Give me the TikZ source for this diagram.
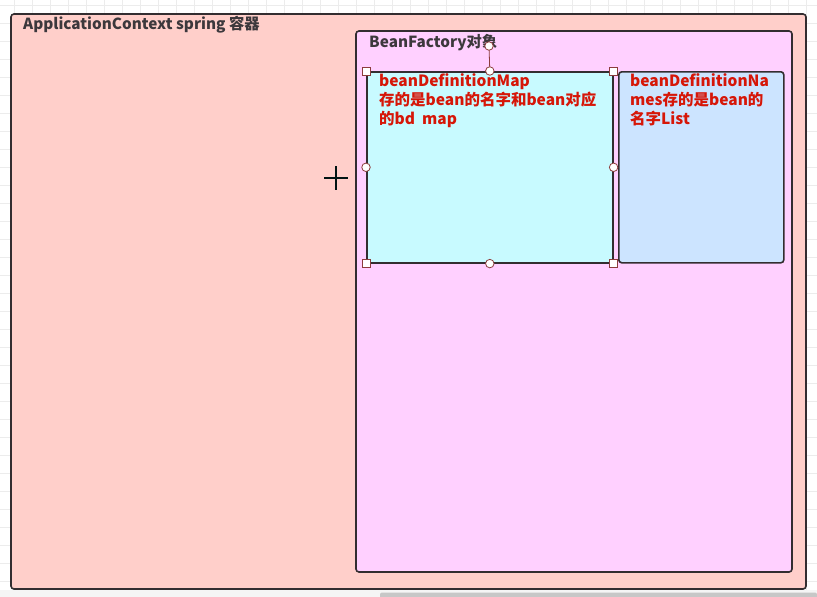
\documentclass[tikz,border=0pt]{standalone}
\usepackage{fontspec}
\usetikzlibrary{calc}
\setmainfont{Noto Sans CJK SC}
\begin{document}
\definecolor{ctxfill}{RGB}{255,207,202}
\definecolor{bffill}{RGB}{255,208,255}
\definecolor{mapfill}{RGB}{200,250,255}
\definecolor{namesfill}{RGB}{204,228,255}
\definecolor{edge}{RGB}{51,45,48}
\definecolor{titletext}{RGB}{60,56,60}
\definecolor{redtext}{RGB}{214,22,8}
\definecolor{handle}{RGB}{140,60,60}
\definecolor{gridline}{RGB}{236,236,236}
\begin{tikzpicture}[x=1pt,y=-1pt,
  container/.style={draw=edge,line width=1.6pt,rounded corners=3pt},
  title/.style={anchor=base west,inner sep=0pt,text=titletext,font=\fontsize{15.3}{18}\selectfont\bfseries},
  note/.style={anchor=base west,inner sep=0pt,text=redtext,align=left,font=\fontsize{15.5}{19}\selectfont\bfseries},
  sqhandle/.style={draw=handle,fill=white,line width=0.8pt,minimum size=8pt,inner sep=0pt,rectangle},
  cihandle/.style={draw=handle,fill=white,line width=0.8pt,minimum size=8.5pt,inner sep=0pt,circle}]
  % canvas with grid
  \useasboundingbox (0,0) rectangle (817,597);
  \fill[white] (0,0) rectangle (817,597);
  \draw[gridline,line width=0.6pt,step=18pt,shift={(14pt,-5pt)}] (-14,-13) grid (805,603);
  \fill[black!4] (0,590) rectangle (817,597);
  \fill[black!22,rounded corners=2pt] (380,592.5) rectangle (817,599);
  % ApplicationContext container
  \draw[container,fill=ctxfill] (11,14) rectangle (806,589);
  \node[title] (ctx) at (23,29) {ApplicationContext spring 容器};
  % BeanFactory container
  \draw[container,fill=bffill] (356,31) rectangle (792,572);
  \node[title] (bf) at (369,47) {BeanFactory对象};
  % beanDefinitionMap box (selected)
  \node[draw=edge,line width=1.6pt,fill=mapfill,rectangle,minimum width=246pt,minimum height=191pt,inner sep=0pt,anchor=north west] (map) at (366,71) {};
  % multi-line notes: the base anchor sits on the last line
  \node[note] (maptext) at (379,124) {beanDefinitionMap\\存的是bean的名字和bean对应\\的bd\ \ map};
  % beanDefinitionNames box
  \node[draw=edge,line width=1.6pt,fill=namesfill,rectangle,rounded corners=3pt,minimum width=165pt,minimum height=191pt,inner sep=0pt,anchor=north west] (names) at (618,71) {};
  \node[note] (namestext) at (630,124) {beanDefinitionNa\\mes存的是bean的\\名字List};
  % selection handles around the map box
  \coordinate (rot) at (489,46);
  \draw[handle,line width=0.8pt] (rot) -- (map.north);
  \node[cihandle] (hrot) at (rot) {};
  \foreach \a in {north west,north east,south west,south east}
    \node[sqhandle] at (map.\a) {};
  \foreach \a in {north,south,east,west}
    \node[cihandle] at (map.\a) {};
  % pointer crosshair
  \coordinate (cur) at (336,178);
  \draw[black!85!teal,line width=1.4pt] ($(cur)+(-12,0)$) -- ($(cur)+(12,0)$) ($(cur)+(0,-12)$) -- ($(cur)+(0,12)$);
\end{tikzpicture}
\end{document}
